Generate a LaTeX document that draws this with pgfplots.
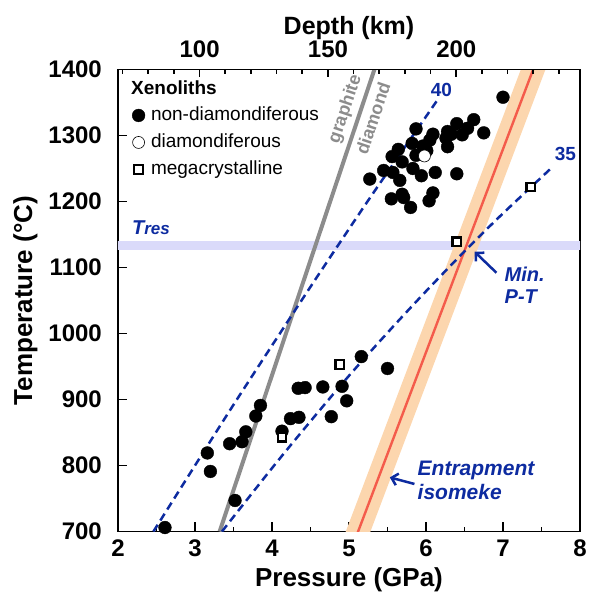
\documentclass[border=0pt]{standalone}
\usepackage{pgfplots}
\pgfplotsset{compat=1.18}
\usepackage{fontspec}
\setmainfont{Liberation Sans}
\usetikzlibrary{arrows.meta}
\definecolor{gblue}{RGB}{13,43,160}
\definecolor{resband}{RGB}{218,218,250}
\definecolor{isoband}{RGB}{252,214,174}
\definecolor{isored}{RGB}{244,91,75}
\definecolor{gdgray}{RGB}{140,140,140}
\begin{document}
\begin{tikzpicture}
\begin{axis}[
  at={(0,0)}, anchor=south west,
  scale only axis, width=462pt, height=462pt,
  xmin=2, xmax=8, ymin=700, ymax=1400,
  xtick={2,3,4,5,6,7,8}, minor xtick={2.5,3.5,4.5,5.5,6.5,7.5},
  ytick={700,800,900,1000,1100,1200,1300,1400},
  xtick pos=bottom, ytick pos=left,
  tick align=inside,
  major tick length=9pt, minor tick length=4.5pt,
  axis line style={line width=1.6pt},
  tick style={line width=1.6pt, black},
  /pgf/number format/assume math mode=true,
  /pgf/number format/set thousands separator={},
  tick label style={font=\fontsize{24}{24}\selectfont\bfseries},
  xticklabel style={inner ysep=0pt, yshift=-8.5pt},
  yticklabel style={inner xsep=0pt, xshift=-16pt},
  xlabel={Pressure (GPa)}, ylabel={Temperature (°C)},
  every axis x label/.style={at={(axis description cs:0.5,0)}, anchor=base, yshift=-55pt, font=\fontsize{26}{26}\selectfont\bfseries},
  every axis y label/.style={at={(axis description cs:-0.186,0.5)}, anchor=base, rotate=90, font=\fontsize{26}{26}\selectfont\bfseries},
  legend cell align=left,
  legend style={at={(axis description cs:0,1)}, anchor=north west, xshift=14pt, yshift=-37pt,
    draw=none, fill=none, inner sep=0pt, row sep=9.5pt,
    font=\fontsize{19}{19}\selectfont,
    nodes={inner sep=0pt, text height=13.5pt, text depth=4pt},
    /tikz/every odd column/.append style={column sep=6pt}},
  legend image code/.code={\draw[#1] plot coordinates {(0pt,0pt)};},
]
% T_res band
\addplot[fill=resband, draw=none, forget plot] coordinates {(1.5,1126.5) (8.5,1126.5) (8.5,1140.6) (1.5,1140.6)} -- cycle;
% entrapment isomeke band
\addplot[fill=isoband, draw=none, forget plot] coordinates {(4.796,650) (5.116,650) (7.714,1450) (7.394,1450)} -- cycle;
% isomeke
\addplot[isored, line width=2.4pt, forget plot] coordinates {(4.956,650) (7.554,1450)};
% graphite-diamond
\addplot[gdgray, line width=4pt, forget plot] coordinates {(3.32,700) (5.33,1400)};
% geotherm 40
\addplot[gblue, line width=2.5pt, dash pattern=on 8pt off 5pt, smooth, forget plot] coordinates {
(2.46,700) (3.0,800) (3.5,892) (4.13,1005) (4.7,1106) (5.24,1200) (5.7,1278) (6.15,1354)};
% geotherm 35
\addplot[gblue, line width=2.5pt, dash pattern=on 8pt off 5pt, smooth, forget plot] coordinates {
(3.35,700) (4.0,796) (4.5,867) (5.0,936) (5.53,1005) (6.0,1064) (6.53,1128) (7.0,1182) (7.64,1252)};
% non-diamondiferous
\addplot[only marks, mark=*, mark size=6.4pt, black, mark options={fill=black, draw=black, line width=0.4pt}] coordinates {
(7.00,1358) (6.62,1324) (6.40,1318) (6.54,1311) (6.75,1304) (5.87,1310) (6.09,1302)
(6.28,1306) (6.33,1302) (6.47,1301) (6.26,1296) (6.05,1293) (5.82,1288) (5.96,1284)
(6.28,1283) (5.64,1279) (6.01,1277) (5.87,1270) (5.56,1268) (5.69,1260) (5.83,1250)
(5.45,1247) (5.57,1244) (6.12,1244) (6.40,1242) (5.94,1239) (5.27,1234) (5.66,1232)
(6.09,1213) (5.69,1211) (5.55,1204) (5.71,1206) (6.04,1201) (5.80,1191)
(5.16,965) (5.50,947) (4.34,917) (4.43,918) (4.66,919) (4.91,920) (4.97,898)
(4.77,874) (4.24,871) (4.35,873) (3.85,891) (3.79,875) (3.66,851) (3.61,836)
(3.45,833) (4.13,852) (3.16,819) (3.20,791) (3.52,747) (2.61,706)};
\addlegendentry{non-diamondiferous}
% diamondiferous
\addplot[only marks, mark=*, mark size=6pt, mark options={fill=white, draw=black, line width=0.6pt}] coordinates {(5.98,1269)};
\addlegendentry{diamondiferous}
% megacrystalline
\addplot[only marks, mark=square*, mark size=4.3pt, mark options={fill=white, draw=black, line width=2.2pt}] coordinates {(7.36,1222) (6.40,1139) (4.88,953) (4.13,843)};
\addlegendentry{megacrystalline}
% annotations
\node[anchor=base west, inner sep=0pt, font=\fontsize{19}{19}\selectfont\bfseries] at ([xshift=13pt,yshift=-25.5pt]rel axis cs:0,1) {Xenoliths};
\node[gdgray, rotate=71.5, inner sep=0pt, font=\fontsize{18}{18}\selectfont\bfseries] at (axis cs:4.955,1340) {graphite};
\node[gdgray, rotate=71.5, inner sep=0pt, font=\fontsize{18}{18}\selectfont\bfseries] at (axis cs:5.31,1326) {diamond};
\node[gblue, inner sep=0pt, font=\fontsize{19}{19}\selectfont\bfseries] at (axis cs:6.2,1369) {40};
\node[gblue, inner sep=0pt, font=\fontsize{19}{19}\selectfont\bfseries] at (axis cs:7.81,1272) {35};
\node[gblue, anchor=west, inner sep=0pt, font=\bfseries\itshape] at (axis cs:2.18,1160) {{\fontsize{20}{20}\selectfont T}{\fontsize{17}{17}\selectfont res}};
\node[gblue, anchor=west, inner sep=0pt, font=\fontsize{20}{20}\selectfont\bfseries\itshape] at (axis cs:7.02,1090) {Min.};
\node[gblue, anchor=west, inner sep=0pt, font=\fontsize{20}{20}\selectfont\bfseries\itshape] at (axis cs:7.02,1056) {P-T};
\node[gblue, anchor=west, inner sep=0pt, font=\fontsize{21}{21}\selectfont\bfseries\itshape] at (axis cs:5.89,793) {Entrapment};
\node[gblue, anchor=west, inner sep=0pt, font=\fontsize{21}{21}\selectfont\bfseries\itshape] at (axis cs:5.89,760) {isomeke};
\draw[gblue, line width=2.5pt, -{Straight Barb[length=6pt,width=12pt]}] (axis cs:6.915,1092) -- (axis cs:6.63,1124);
\draw[gblue, line width=2.5pt, -{Straight Barb[length=6pt,width=12pt]}] (axis cs:5.85,772) -- (axis cs:5.53,782);
\end{axis}
\begin{axis}[
  at={(0,0)}, anchor=south west,
  scale only axis, width=462pt, height=462pt,
  xmin=2, xmax=8, ymin=700, ymax=1400,
  axis x line*=top, axis y line=none,
  xtick={3.06,4.7267,6.3933}, xticklabels={100,150,200},
  minor xtick={2.06,2.3933,2.7267,3.3933,3.7267,4.06,4.3933,5.06,5.3933,5.7267,6.06,6.7267,7.06,7.3933,7.7267},
  tick align=inside,
  major tick length=8pt, minor tick length=4.5pt,
  axis line style={line width=1.6pt},
  tick style={line width=1.6pt, black},
  tick label style={font=\fontsize{24}{24}\selectfont\bfseries},
  xticklabel style={inner ysep=0pt, yshift=11.5pt},
  xlabel={Depth (km)},
  every axis x label/.style={at={(axis description cs:0.5,1)}, anchor=base, yshift=34.5pt, font=\fontsize{25}{25}\selectfont\bfseries},
]
\end{axis}
\pgfresetboundingbox
\path[use as bounding box] (-118pt,-61.5pt) rectangle (470pt,531.5pt);
\end{tikzpicture}
\end{document}
